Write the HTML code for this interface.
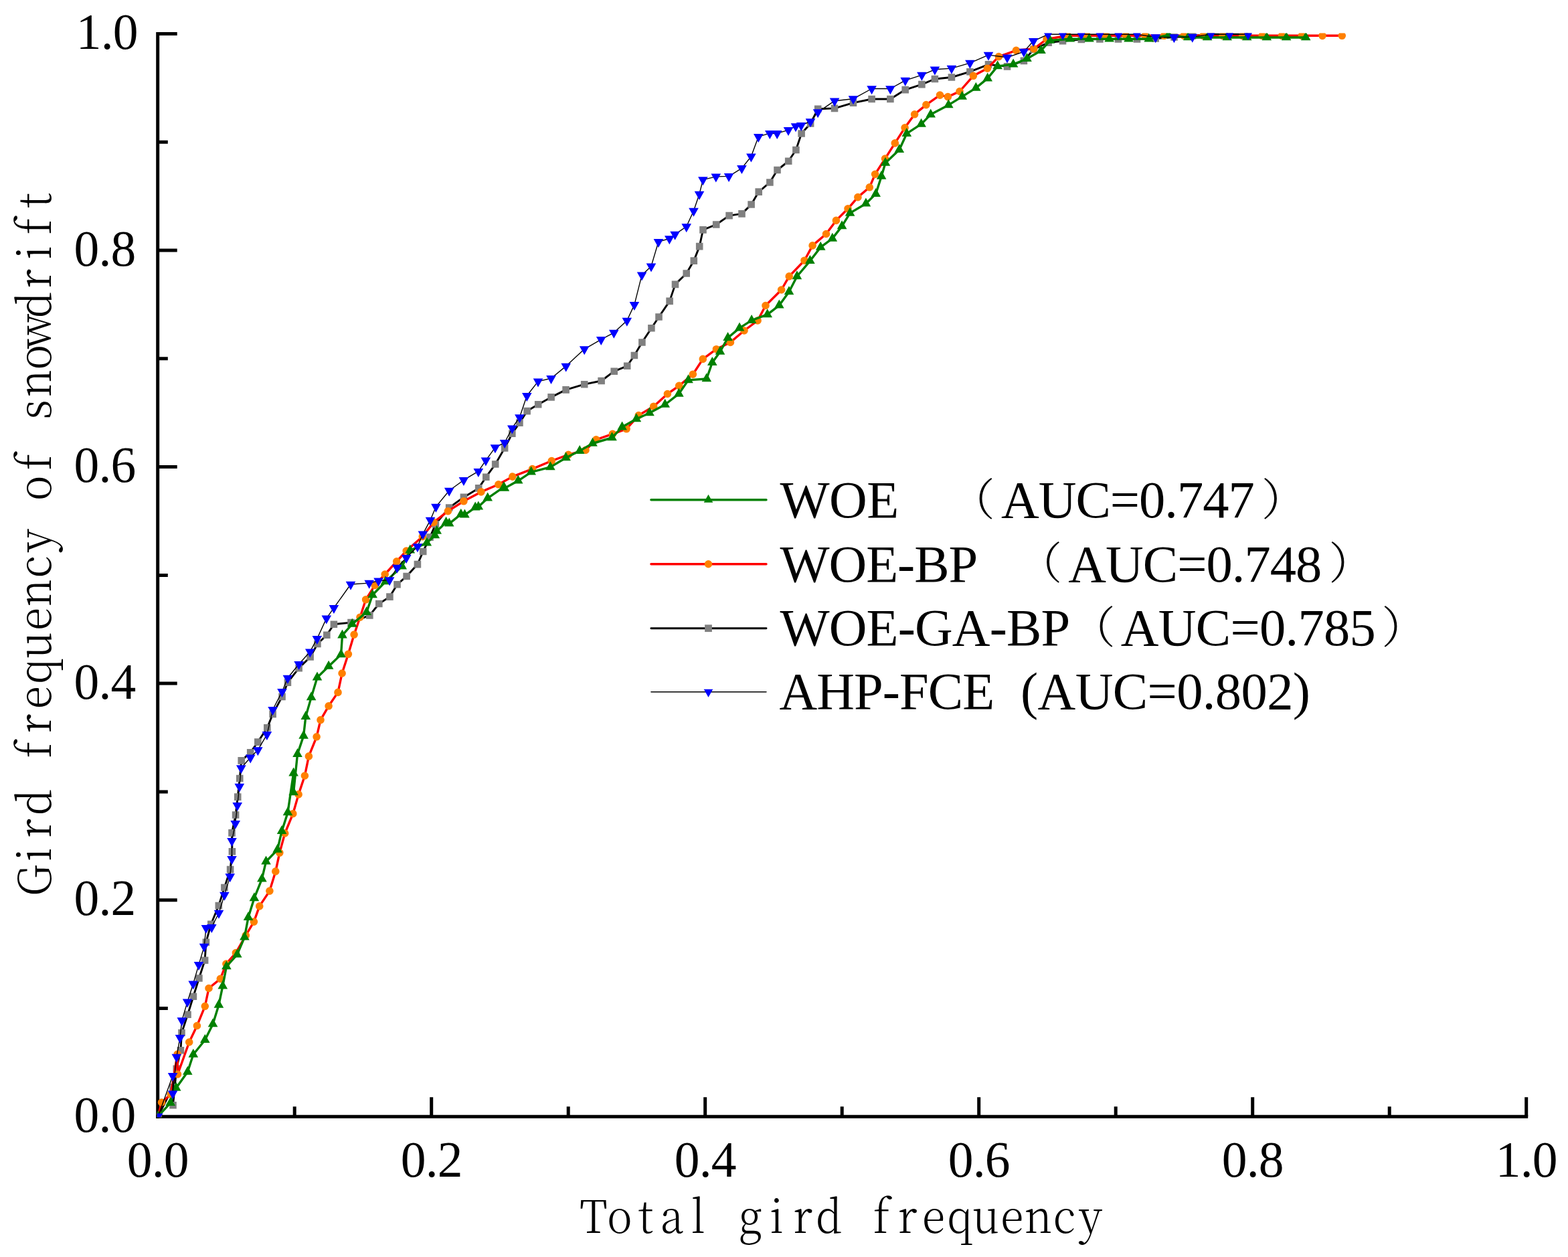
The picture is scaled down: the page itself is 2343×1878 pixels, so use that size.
<!DOCTYPE html>
<html lang="en"><head><meta charset="utf-8"><title>ROC curves</title>
<style>html,body{margin:0;padding:0;background:#fff}svg{display:block}.t{font-family:"Liberation Serif","Noto Serif CJK SC",serif;fill:#000}.c{font-family:"Liberation Serif","Noto Serif CJK SC",serif;fill:#000}.m{font-family:"Noto Serif CJK SC","Liberation Serif",serif;fill:#000}</style></head><body>
<svg width="2343" height="1878" viewBox="0 0 2343 1878">
<rect width="2343" height="1878" fill="#fff"/>
<defs><clipPath id="cp"><rect x="234.7" y="49.4" width="2047" height="1619.9"/></clipPath></defs>
<g stroke="#000" stroke-width="5.0" fill="none" stroke-linecap="butt">
<path d="M235.7 47.9V1670.8"/>
<path d="M233.2 1668.3H2283.2"/>
<path d="M440.2 1668.3v-15.1M235.7 1506.5h15.1M644.7 1668.3v-29M235.7 1344.7h29M849.2 1668.3v-15.1M235.7 1182.9h15.1M1053.7 1668.3v-29M235.7 1021.1h29M1258.2 1668.3v-15.1M235.7 859.4h15.1M1462.7 1668.3v-29M235.7 697.6h29M1667.2 1668.3v-15.1M235.7 535.8h15.1M1871.7 1668.3v-29M235.7 374h29M2076.2 1668.3v-15.1M235.7 212.2h15.1M2280.7 1668.3v-29M235.7 50.4h29"/>
</g>
<g clip-path="url(#cp)" stroke-linejoin="round" stroke-linecap="round">
<path d="M236.2 1667.8L258.3 1624.4L258.5 1651.3L263.8 1596.7L269.9 1569.2L271.5 1543L280.5 1515.8L288.9 1488.7L297.4 1461.5L306.1 1434.8L307.9 1407.7L315.3 1380.8L326.8 1353L335.4 1326L344.1 1299.1L346.9 1272.2L346.5 1244.4L352.1 1217.5L355.2 1190.6L358.2 1163L360.7 1136.4L374.2 1124.4L385.3 1108.6L399.3 1087.3L407.6 1066.9L421.5 1040.9L429.9 1019.6L446.6 998.2L463.6 981.5L474.4 962L488.3 948.7L498.9 932.7L524.5 930.1L552.3 919.4L566.3 902L582.4 891.6L593.5 873.2L607.6 861L623.9 843.1L632.2 824L642.5 802.6L650.8 783.2L671.2 758.5L692.9 742.9L715.2 729.4L726.3 712.7L740.2 693.5L754.1 669.4L765.3 647.7L776.4 631.6L787.6 614.1L804.2 604.2L823.6 593.4L845.6 582.4L873.2 574.2L898.6 569L917.7 554.7L937.2 546.8L947.9 531L959.4 511.5L973.4 490.2L984.5 473.5L1000.6 449.9L1009 424.9L1025.7 408.5L1036.8 389.6L1045.2 368.1L1050.5 343.4L1070.2 335.5L1089.6 322.1L1108.5 319.4L1122.6 305.5L1133.7 286.6L1150.4 272.5L1161.5 254L1178.2 240.8L1189.4 224L1197.6 199.5L1211.1 184.5L1222.2 162.8L1247 161.9L1275 153.6L1302.6 148L1330.4 148L1352.7 134.1L1377.4 126.1L1396.9 118L1421.9 115.5L1449.4 107.2L1477 96.4L1505 99.4L1529.9 90.9L1544.4 73.8L1566.6 63.6L1588 61.2L1615.8 59L1643.4 58.5L1671 58.5L1699 58.5L1726.7 57.5L1754.5 55.5L1782 53.5L1809.5 51.2L1837.3 51.2L1865 51.2" fill="none" stroke="#000" stroke-width="2.9"/>
<path d="M253 1619.1h10.6v10.6h-10.6zM253.2 1646h10.6v10.6h-10.6zM258.5 1591.4h10.6v10.6h-10.6zM264.6 1563.9h10.6v10.6h-10.6zM266.2 1537.7h10.6v10.6h-10.6zM275.2 1510.5h10.6v10.6h-10.6zM283.6 1483.4h10.6v10.6h-10.6zM292.1 1456.2h10.6v10.6h-10.6zM300.8 1429.5h10.6v10.6h-10.6zM302.6 1402.4h10.6v10.6h-10.6zM310 1375.5h10.6v10.6h-10.6zM321.5 1347.7h10.6v10.6h-10.6zM330.1 1320.7h10.6v10.6h-10.6zM338.8 1293.8h10.6v10.6h-10.6zM341.6 1266.9h10.6v10.6h-10.6zM341.2 1239.1h10.6v10.6h-10.6zM346.8 1212.2h10.6v10.6h-10.6zM349.9 1185.3h10.6v10.6h-10.6zM352.9 1157.7h10.6v10.6h-10.6zM355.4 1131.1h10.6v10.6h-10.6zM368.9 1119.1h10.6v10.6h-10.6zM380 1103.3h10.6v10.6h-10.6zM394 1082h10.6v10.6h-10.6zM402.3 1061.6h10.6v10.6h-10.6zM416.2 1035.6h10.6v10.6h-10.6zM424.6 1014.3h10.6v10.6h-10.6zM441.3 992.9h10.6v10.6h-10.6zM458.3 976.2h10.6v10.6h-10.6zM469.1 956.7h10.6v10.6h-10.6zM483 943.4h10.6v10.6h-10.6zM493.6 927.4h10.6v10.6h-10.6zM519.2 924.8h10.6v10.6h-10.6zM547 914.1h10.6v10.6h-10.6zM561 896.7h10.6v10.6h-10.6zM577.1 886.3h10.6v10.6h-10.6zM588.2 867.9h10.6v10.6h-10.6zM602.3 855.7h10.6v10.6h-10.6zM618.6 837.8h10.6v10.6h-10.6zM626.9 818.7h10.6v10.6h-10.6zM637.2 797.3h10.6v10.6h-10.6zM645.5 777.9h10.6v10.6h-10.6zM665.9 753.2h10.6v10.6h-10.6zM687.6 737.6h10.6v10.6h-10.6zM709.9 724.1h10.6v10.6h-10.6zM721 707.4h10.6v10.6h-10.6zM734.9 688.2h10.6v10.6h-10.6zM748.8 664.1h10.6v10.6h-10.6zM760 642.4h10.6v10.6h-10.6zM771.1 626.3h10.6v10.6h-10.6zM782.3 608.8h10.6v10.6h-10.6zM798.9 598.9h10.6v10.6h-10.6zM818.3 588.1h10.6v10.6h-10.6zM840.3 577.1h10.6v10.6h-10.6zM867.9 568.9h10.6v10.6h-10.6zM893.3 563.7h10.6v10.6h-10.6zM912.4 549.4h10.6v10.6h-10.6zM931.9 541.5h10.6v10.6h-10.6zM942.6 525.7h10.6v10.6h-10.6zM954.1 506.2h10.6v10.6h-10.6zM968.1 484.9h10.6v10.6h-10.6zM979.2 468.2h10.6v10.6h-10.6zM995.3 444.6h10.6v10.6h-10.6zM1003.7 419.6h10.6v10.6h-10.6zM1020.4 403.2h10.6v10.6h-10.6zM1031.5 384.3h10.6v10.6h-10.6zM1039.9 362.8h10.6v10.6h-10.6zM1045.2 338.1h10.6v10.6h-10.6zM1064.9 330.2h10.6v10.6h-10.6zM1084.3 316.8h10.6v10.6h-10.6zM1103.2 314.1h10.6v10.6h-10.6zM1117.3 300.2h10.6v10.6h-10.6zM1128.4 281.3h10.6v10.6h-10.6zM1145.1 267.2h10.6v10.6h-10.6zM1156.2 248.7h10.6v10.6h-10.6zM1172.9 235.5h10.6v10.6h-10.6zM1184.1 218.7h10.6v10.6h-10.6zM1192.3 194.2h10.6v10.6h-10.6zM1205.8 179.2h10.6v10.6h-10.6zM1216.9 157.5h10.6v10.6h-10.6zM1241.7 156.6h10.6v10.6h-10.6zM1269.7 148.3h10.6v10.6h-10.6zM1297.3 142.7h10.6v10.6h-10.6zM1325.1 142.7h10.6v10.6h-10.6zM1347.4 128.8h10.6v10.6h-10.6zM1372.1 120.8h10.6v10.6h-10.6zM1391.6 112.7h10.6v10.6h-10.6zM1416.6 110.2h10.6v10.6h-10.6zM1444.1 101.9h10.6v10.6h-10.6zM1471.7 91.1h10.6v10.6h-10.6zM1499.7 94.1h10.6v10.6h-10.6zM1524.6 85.6h10.6v10.6h-10.6zM1539.1 68.5h10.6v10.6h-10.6zM1561.3 58.3h10.6v10.6h-10.6zM1582.7 55.9h10.6v10.6h-10.6zM1610.5 53.7h10.6v10.6h-10.6zM1638.1 53.2h10.6v10.6h-10.6zM1665.7 53.2h10.6v10.6h-10.6zM1693.7 53.2h10.6v10.6h-10.6zM1721.4 52.2h10.6v10.6h-10.6zM1749.2 50.2h10.6v10.6h-10.6zM1776.7 48.2h10.6v10.6h-10.6zM1804.2 45.9h10.6v10.6h-10.6zM1832 45.9h10.6v10.6h-10.6zM1859.7 45.9h10.6v10.6h-10.6z" fill="#808080"/>
<path d="M236.2 1667.8L241.5 1647L255.2 1635L265.1 1575L265.5 1605L282.7 1557L294.4 1532.5L306.3 1503.3L312 1476.5L329.3 1462.4L337.9 1440L352.4 1423.5L367.3 1397.5L379.4 1377.1L387.7 1353.9L402.9 1331.1L411.8 1301.9L417.8 1274.1L425.7 1245L437.8 1215.7L446.1 1186.9L455.4 1159L461.4 1129.9L473.1 1100.8L479 1075.6L491.1 1054.8L505 1034.4L511.1 1006L520.4 977.3L529.1 948.1L538 922.2L546.6 895.8L560.2 874.4L575.2 858L592.7 838.8L607.2 823L631.3 801.7L648 780.4L669.4 763.7L692.9 748.8L718.9 734.9L744.9 723.8L765.8 712.1L795.5 700.6L824.3 688.5L849.3 679.3L875 672.5L890.8 656.8L915.4 648.4L936.1 640.8L954.3 620.5L976.7 607.2L997.4 588.5L1014.7 576.4L1035.4 559.2L1050.3 536.4L1070.4 521.7L1091.4 511.4L1112 494L1132.1 479L1144 456.5L1167.6 433L1179.2 412.9L1202 389.2L1214.1 366.9L1234.5 349.5L1249.4 329.4L1267 311.8L1281.9 294.6L1299.3 279.8L1307.6 260.3L1322.5 237.1L1337.3 213.9L1352.1 190.8L1366.6 170.8L1383.9 156.6L1404.5 142.1L1416.4 144.6L1434 136.5L1454.4 113.3L1475.4 102.2L1492.4 84.6L1518.4 75.3L1544.9 72.8L1564 58.5L1595.4 53.3L1624.4 53.3L1652.5 53.3L1682.3 53.3L1711 53.3L1739.5 53.3L1769.1 53.3L1798.1 53.3L1827 53.3L1856.6 53.3L1886.1 53.3L1915.5 53.3L1945.3 53.3L1976 53.3L2005.3 53.3" fill="none" stroke="#f00" stroke-width="3.4"/>
<path d="M230.4 1667.8a5.8 5.8 0 1 0 11.6 0a5.8 5.8 0 1 0 -11.6 0zM235.7 1647a5.8 5.8 0 1 0 11.6 0a5.8 5.8 0 1 0 -11.6 0zM249.4 1635a5.8 5.8 0 1 0 11.6 0a5.8 5.8 0 1 0 -11.6 0zM259.3 1575a5.8 5.8 0 1 0 11.6 0a5.8 5.8 0 1 0 -11.6 0zM259.7 1605a5.8 5.8 0 1 0 11.6 0a5.8 5.8 0 1 0 -11.6 0zM276.9 1557a5.8 5.8 0 1 0 11.6 0a5.8 5.8 0 1 0 -11.6 0zM288.6 1532.5a5.8 5.8 0 1 0 11.6 0a5.8 5.8 0 1 0 -11.6 0zM300.5 1503.3a5.8 5.8 0 1 0 11.6 0a5.8 5.8 0 1 0 -11.6 0zM306.2 1476.5a5.8 5.8 0 1 0 11.6 0a5.8 5.8 0 1 0 -11.6 0zM323.5 1462.4a5.8 5.8 0 1 0 11.6 0a5.8 5.8 0 1 0 -11.6 0zM332.1 1440a5.8 5.8 0 1 0 11.6 0a5.8 5.8 0 1 0 -11.6 0zM346.6 1423.5a5.8 5.8 0 1 0 11.6 0a5.8 5.8 0 1 0 -11.6 0zM361.5 1397.5a5.8 5.8 0 1 0 11.6 0a5.8 5.8 0 1 0 -11.6 0zM373.6 1377.1a5.8 5.8 0 1 0 11.6 0a5.8 5.8 0 1 0 -11.6 0zM381.9 1353.9a5.8 5.8 0 1 0 11.6 0a5.8 5.8 0 1 0 -11.6 0zM397.1 1331.1a5.8 5.8 0 1 0 11.6 0a5.8 5.8 0 1 0 -11.6 0zM406 1301.9a5.8 5.8 0 1 0 11.6 0a5.8 5.8 0 1 0 -11.6 0zM412 1274.1a5.8 5.8 0 1 0 11.6 0a5.8 5.8 0 1 0 -11.6 0zM419.9 1245a5.8 5.8 0 1 0 11.6 0a5.8 5.8 0 1 0 -11.6 0zM432 1215.7a5.8 5.8 0 1 0 11.6 0a5.8 5.8 0 1 0 -11.6 0zM440.3 1186.9a5.8 5.8 0 1 0 11.6 0a5.8 5.8 0 1 0 -11.6 0zM449.6 1159a5.8 5.8 0 1 0 11.6 0a5.8 5.8 0 1 0 -11.6 0zM455.6 1129.9a5.8 5.8 0 1 0 11.6 0a5.8 5.8 0 1 0 -11.6 0zM467.3 1100.8a5.8 5.8 0 1 0 11.6 0a5.8 5.8 0 1 0 -11.6 0zM473.2 1075.6a5.8 5.8 0 1 0 11.6 0a5.8 5.8 0 1 0 -11.6 0zM485.3 1054.8a5.8 5.8 0 1 0 11.6 0a5.8 5.8 0 1 0 -11.6 0zM499.2 1034.4a5.8 5.8 0 1 0 11.6 0a5.8 5.8 0 1 0 -11.6 0zM505.3 1006a5.8 5.8 0 1 0 11.6 0a5.8 5.8 0 1 0 -11.6 0zM514.6 977.3a5.8 5.8 0 1 0 11.6 0a5.8 5.8 0 1 0 -11.6 0zM523.3 948.1a5.8 5.8 0 1 0 11.6 0a5.8 5.8 0 1 0 -11.6 0zM532.2 922.2a5.8 5.8 0 1 0 11.6 0a5.8 5.8 0 1 0 -11.6 0zM540.8 895.8a5.8 5.8 0 1 0 11.6 0a5.8 5.8 0 1 0 -11.6 0zM554.4 874.4a5.8 5.8 0 1 0 11.6 0a5.8 5.8 0 1 0 -11.6 0zM569.4 858a5.8 5.8 0 1 0 11.6 0a5.8 5.8 0 1 0 -11.6 0zM586.9 838.8a5.8 5.8 0 1 0 11.6 0a5.8 5.8 0 1 0 -11.6 0zM601.4 823a5.8 5.8 0 1 0 11.6 0a5.8 5.8 0 1 0 -11.6 0zM625.5 801.7a5.8 5.8 0 1 0 11.6 0a5.8 5.8 0 1 0 -11.6 0zM642.2 780.4a5.8 5.8 0 1 0 11.6 0a5.8 5.8 0 1 0 -11.6 0zM663.6 763.7a5.8 5.8 0 1 0 11.6 0a5.8 5.8 0 1 0 -11.6 0zM687.1 748.8a5.8 5.8 0 1 0 11.6 0a5.8 5.8 0 1 0 -11.6 0zM713.1 734.9a5.8 5.8 0 1 0 11.6 0a5.8 5.8 0 1 0 -11.6 0zM739.1 723.8a5.8 5.8 0 1 0 11.6 0a5.8 5.8 0 1 0 -11.6 0zM760 712.1a5.8 5.8 0 1 0 11.6 0a5.8 5.8 0 1 0 -11.6 0zM789.7 700.6a5.8 5.8 0 1 0 11.6 0a5.8 5.8 0 1 0 -11.6 0zM818.5 688.5a5.8 5.8 0 1 0 11.6 0a5.8 5.8 0 1 0 -11.6 0zM843.5 679.3a5.8 5.8 0 1 0 11.6 0a5.8 5.8 0 1 0 -11.6 0zM869.2 672.5a5.8 5.8 0 1 0 11.6 0a5.8 5.8 0 1 0 -11.6 0zM885 656.8a5.8 5.8 0 1 0 11.6 0a5.8 5.8 0 1 0 -11.6 0zM909.6 648.4a5.8 5.8 0 1 0 11.6 0a5.8 5.8 0 1 0 -11.6 0zM930.3 640.8a5.8 5.8 0 1 0 11.6 0a5.8 5.8 0 1 0 -11.6 0zM948.5 620.5a5.8 5.8 0 1 0 11.6 0a5.8 5.8 0 1 0 -11.6 0zM970.9 607.2a5.8 5.8 0 1 0 11.6 0a5.8 5.8 0 1 0 -11.6 0zM991.6 588.5a5.8 5.8 0 1 0 11.6 0a5.8 5.8 0 1 0 -11.6 0zM1008.9 576.4a5.8 5.8 0 1 0 11.6 0a5.8 5.8 0 1 0 -11.6 0zM1029.6 559.2a5.8 5.8 0 1 0 11.6 0a5.8 5.8 0 1 0 -11.6 0zM1044.5 536.4a5.8 5.8 0 1 0 11.6 0a5.8 5.8 0 1 0 -11.6 0zM1064.6 521.7a5.8 5.8 0 1 0 11.6 0a5.8 5.8 0 1 0 -11.6 0zM1085.6 511.4a5.8 5.8 0 1 0 11.6 0a5.8 5.8 0 1 0 -11.6 0zM1106.2 494a5.8 5.8 0 1 0 11.6 0a5.8 5.8 0 1 0 -11.6 0zM1126.3 479a5.8 5.8 0 1 0 11.6 0a5.8 5.8 0 1 0 -11.6 0zM1138.2 456.5a5.8 5.8 0 1 0 11.6 0a5.8 5.8 0 1 0 -11.6 0zM1161.8 433a5.8 5.8 0 1 0 11.6 0a5.8 5.8 0 1 0 -11.6 0zM1173.4 412.9a5.8 5.8 0 1 0 11.6 0a5.8 5.8 0 1 0 -11.6 0zM1196.2 389.2a5.8 5.8 0 1 0 11.6 0a5.8 5.8 0 1 0 -11.6 0zM1208.3 366.9a5.8 5.8 0 1 0 11.6 0a5.8 5.8 0 1 0 -11.6 0zM1228.7 349.5a5.8 5.8 0 1 0 11.6 0a5.8 5.8 0 1 0 -11.6 0zM1243.6 329.4a5.8 5.8 0 1 0 11.6 0a5.8 5.8 0 1 0 -11.6 0zM1261.2 311.8a5.8 5.8 0 1 0 11.6 0a5.8 5.8 0 1 0 -11.6 0zM1276.1 294.6a5.8 5.8 0 1 0 11.6 0a5.8 5.8 0 1 0 -11.6 0zM1293.5 279.8a5.8 5.8 0 1 0 11.6 0a5.8 5.8 0 1 0 -11.6 0zM1301.8 260.3a5.8 5.8 0 1 0 11.6 0a5.8 5.8 0 1 0 -11.6 0zM1316.7 237.1a5.8 5.8 0 1 0 11.6 0a5.8 5.8 0 1 0 -11.6 0zM1331.5 213.9a5.8 5.8 0 1 0 11.6 0a5.8 5.8 0 1 0 -11.6 0zM1346.3 190.8a5.8 5.8 0 1 0 11.6 0a5.8 5.8 0 1 0 -11.6 0zM1360.8 170.8a5.8 5.8 0 1 0 11.6 0a5.8 5.8 0 1 0 -11.6 0zM1378.1 156.6a5.8 5.8 0 1 0 11.6 0a5.8 5.8 0 1 0 -11.6 0zM1398.7 142.1a5.8 5.8 0 1 0 11.6 0a5.8 5.8 0 1 0 -11.6 0zM1410.6 144.6a5.8 5.8 0 1 0 11.6 0a5.8 5.8 0 1 0 -11.6 0zM1428.2 136.5a5.8 5.8 0 1 0 11.6 0a5.8 5.8 0 1 0 -11.6 0zM1448.6 113.3a5.8 5.8 0 1 0 11.6 0a5.8 5.8 0 1 0 -11.6 0zM1469.6 102.2a5.8 5.8 0 1 0 11.6 0a5.8 5.8 0 1 0 -11.6 0zM1486.6 84.6a5.8 5.8 0 1 0 11.6 0a5.8 5.8 0 1 0 -11.6 0zM1512.6 75.3a5.8 5.8 0 1 0 11.6 0a5.8 5.8 0 1 0 -11.6 0zM1539.1 72.8a5.8 5.8 0 1 0 11.6 0a5.8 5.8 0 1 0 -11.6 0zM1558.2 58.5a5.8 5.8 0 1 0 11.6 0a5.8 5.8 0 1 0 -11.6 0zM1589.6 53.3a5.8 5.8 0 1 0 11.6 0a5.8 5.8 0 1 0 -11.6 0zM1618.6 53.3a5.8 5.8 0 1 0 11.6 0a5.8 5.8 0 1 0 -11.6 0zM1646.7 53.3a5.8 5.8 0 1 0 11.6 0a5.8 5.8 0 1 0 -11.6 0zM1676.5 53.3a5.8 5.8 0 1 0 11.6 0a5.8 5.8 0 1 0 -11.6 0zM1705.2 53.3a5.8 5.8 0 1 0 11.6 0a5.8 5.8 0 1 0 -11.6 0zM1733.7 53.3a5.8 5.8 0 1 0 11.6 0a5.8 5.8 0 1 0 -11.6 0zM1763.3 53.3a5.8 5.8 0 1 0 11.6 0a5.8 5.8 0 1 0 -11.6 0zM1792.3 53.3a5.8 5.8 0 1 0 11.6 0a5.8 5.8 0 1 0 -11.6 0zM1821.2 53.3a5.8 5.8 0 1 0 11.6 0a5.8 5.8 0 1 0 -11.6 0zM1850.8 53.3a5.8 5.8 0 1 0 11.6 0a5.8 5.8 0 1 0 -11.6 0zM1880.3 53.3a5.8 5.8 0 1 0 11.6 0a5.8 5.8 0 1 0 -11.6 0zM1909.7 53.3a5.8 5.8 0 1 0 11.6 0a5.8 5.8 0 1 0 -11.6 0zM1939.5 53.3a5.8 5.8 0 1 0 11.6 0a5.8 5.8 0 1 0 -11.6 0zM1970.2 53.3a5.8 5.8 0 1 0 11.6 0a5.8 5.8 0 1 0 -11.6 0zM1999.5 53.3a5.8 5.8 0 1 0 11.6 0a5.8 5.8 0 1 0 -11.6 0z" fill="#ff8000"/>
<path d="M236.2 1667.8L254.6 1647.8L263.2 1625.5L280.3 1601.5L288.8 1575.5L306.3 1553.7L318.1 1530L326.9 1501.5L332.8 1473.2L338.4 1443.9L354.3 1426.3L365.4 1400.3L371 1370.6L379.9 1341.9L391.4 1313.1L397.5 1287.2L414.6 1269.5L421.1 1241.7L430 1213.9L438.6 1155.1L438.6 1183.9L444.5 1126.8L453.6 1099.4L456.8 1070.6L465.1 1041.9L474 1012.2L491.1 995.5L509.6 977.9L511.5 949.1L526.3 932.4L547.7 914.8L556.6 889L576 869L600.7 846.3L612.8 822.2L637.8 811.1L649.9 799.9L652.7 793.4L666.6 780.4L671.2 782.3L688.8 768.4L694.4 769.3L710.2 758.2L714.8 757.3L728.7 744.3L752.8 727.6L753.9 729.4L774.2 718.3L793.7 705.3L822.4 697.9L845.6 684L866.2 673.6L885.5 662.5L914.5 654L929.6 638.1L950.9 626L970.5 617L993.7 604.5L1014.4 588.4L1028.5 567.9L1055.8 566L1064.3 541.8L1076 525.4L1087.6 504.8L1105 490.1L1123.1 478.6L1146.7 469.9L1164.3 456.3L1179 436L1190.9 413L1210.4 389.8L1226.2 369.4L1243.8 356.4L1258.1 337.9L1270.1 318.4L1293.9 304.2L1308.7 289.6L1317.1 263.4L1323 243.4L1343.8 223.8L1354.8 199.7L1376.6 185.4L1390.7 171.1L1417.3 156.9L1437.7 144.4L1458.3 131.4L1475.7 117.1L1490.6 98.9L1514.1 96.1L1534.5 87.8L1555.5 75.7L1569 60.5L1598.8 58.2L1627.5 58.2L1657.6 58.2L1686.5 58.2L1716.7 58.2L1746 52.5L1775.2 56L1804.1 56L1833.7 56L1863.2 56L1892.8 56L1922.1 56L1951.2 56" fill="none" stroke="#008000" stroke-width="3.4"/>
<path d="M228.9 1672.1h14.6L236.2 1659.1zM247.3 1652.1h14.6L254.6 1639.1zM255.9 1629.8h14.6L263.2 1616.8zM273 1605.8h14.6L280.3 1592.8zM281.5 1579.8h14.6L288.8 1566.8zM299 1558h14.6L306.3 1545zM310.8 1534.3h14.6L318.1 1521.3zM319.6 1505.8h14.6L326.9 1492.8zM325.5 1477.5h14.6L332.8 1464.5zM331.1 1448.2h14.6L338.4 1435.2zM347 1430.6h14.6L354.3 1417.6zM358.1 1404.6h14.6L365.4 1391.6zM363.7 1374.9h14.6L371 1361.9zM372.6 1346.2h14.6L379.9 1333.2zM384.1 1317.4h14.6L391.4 1304.4zM390.2 1291.5h14.6L397.5 1278.5zM407.3 1273.8h14.6L414.6 1260.8zM413.8 1246h14.6L421.1 1233zM422.7 1218.2h14.6L430 1205.2zM431.3 1159.4h14.6L438.6 1146.4zM431.3 1188.2h14.6L438.6 1175.2zM437.2 1131.1h14.6L444.5 1118.1zM446.3 1103.7h14.6L453.6 1090.7zM449.5 1074.9h14.6L456.8 1061.9zM457.8 1046.2h14.6L465.1 1033.2zM466.7 1016.5h14.6L474 1003.5zM483.8 999.8h14.6L491.1 986.8zM502.3 982.2h14.6L509.6 969.2zM504.2 953.4h14.6L511.5 940.4zM519 936.7h14.6L526.3 923.7zM540.4 919.1h14.6L547.7 906.1zM549.3 893.3h14.6L556.6 880.3zM568.7 873.3h14.6L576 860.3zM593.4 850.6h14.6L600.7 837.6zM605.5 826.5h14.6L612.8 813.5zM630.5 815.4h14.6L637.8 802.4zM642.6 804.2h14.6L649.9 791.2zM645.4 797.7h14.6L652.7 784.7zM659.3 784.7h14.6L666.6 771.7zM663.9 786.6h14.6L671.2 773.6zM681.5 772.7h14.6L688.8 759.7zM687.1 773.6h14.6L694.4 760.6zM702.9 762.5h14.6L710.2 749.5zM707.5 761.6h14.6L714.8 748.6zM721.4 748.6h14.6L728.7 735.6zM745.5 731.9h14.6L752.8 718.9zM746.6 733.7h14.6L753.9 720.7zM766.9 722.6h14.6L774.2 709.6zM786.4 709.6h14.6L793.7 696.6zM815.1 702.2h14.6L822.4 689.2zM838.3 688.3h14.6L845.6 675.3zM858.9 677.9h14.6L866.2 664.9zM878.2 666.8h14.6L885.5 653.8zM907.2 658.3h14.6L914.5 645.3zM922.3 642.4h14.6L929.6 629.4zM943.6 630.3h14.6L950.9 617.3zM963.2 621.3h14.6L970.5 608.3zM986.4 608.8h14.6L993.7 595.8zM1007.1 592.7h14.6L1014.4 579.7zM1021.2 572.2h14.6L1028.5 559.2zM1048.5 570.3h14.6L1055.8 557.3zM1057 546.1h14.6L1064.3 533.1zM1068.7 529.7h14.6L1076 516.7zM1080.3 509.1h14.6L1087.6 496.1zM1097.7 494.4h14.6L1105 481.4zM1115.8 482.9h14.6L1123.1 469.9zM1139.4 474.2h14.6L1146.7 461.2zM1157 460.6h14.6L1164.3 447.6zM1171.7 440.3h14.6L1179 427.3zM1183.6 417.3h14.6L1190.9 404.3zM1203.1 394.1h14.6L1210.4 381.1zM1218.9 373.7h14.6L1226.2 360.7zM1236.5 360.7h14.6L1243.8 347.7zM1250.8 342.2h14.6L1258.1 329.2zM1262.8 322.7h14.6L1270.1 309.7zM1286.6 308.5h14.6L1293.9 295.5zM1301.4 293.9h14.6L1308.7 280.9zM1309.8 267.7h14.6L1317.1 254.7zM1315.7 247.7h14.6L1323 234.7zM1336.5 228.1h14.6L1343.8 215.1zM1347.5 204h14.6L1354.8 191zM1369.3 189.7h14.6L1376.6 176.7zM1383.4 175.4h14.6L1390.7 162.4zM1410 161.2h14.6L1417.3 148.2zM1430.4 148.7h14.6L1437.7 135.7zM1451 135.7h14.6L1458.3 122.7zM1468.4 121.4h14.6L1475.7 108.4zM1483.3 103.2h14.6L1490.6 90.2zM1506.8 100.4h14.6L1514.1 87.4zM1527.2 92.1h14.6L1534.5 79.1zM1548.2 80h14.6L1555.5 67zM1561.7 64.8h14.6L1569 51.8zM1591.5 62.5h14.6L1598.8 49.5zM1620.2 62.5h14.6L1627.5 49.5zM1650.3 62.5h14.6L1657.6 49.5zM1679.2 62.5h14.6L1686.5 49.5zM1709.4 62.5h14.6L1716.7 49.5zM1738.7 56.8h14.6L1746 43.8zM1767.9 60.3h14.6L1775.2 47.3zM1796.8 60.3h14.6L1804.1 47.3zM1826.4 60.3h14.6L1833.7 47.3zM1855.9 60.3h14.6L1863.2 47.3zM1885.5 60.3h14.6L1892.8 47.3zM1914.8 60.3h14.6L1922.1 47.3zM1943.9 60.3h14.6L1951.2 47.3z" fill="#008000"/>
<path d="M236.2 1667.8L258.1 1607.2L258.1 1633.7L263.8 1579L269 1550.3L271.8 1524.6L280.1 1496.7L288.7 1469.7L297 1441.4L305.1 1414.1L307.9 1386.3L316.3 1385.3L327 1364L335.4 1337.1L343.7 1309.6L346.5 1283.3L346.5 1256.4L351.7 1230.4L354.7 1203.2L357.8 1175L360.3 1147.5L374.2 1131.7L385.3 1120.6L398.9 1097.4L407.6 1060.3L421.5 1033.4L429.9 1013L446.6 992.2L463.3 973.7L473.8 954.2L487.8 923.9L498.9 908.2L524 873L551.7 871.1L565.6 867.7L582.1 866.5L593.3 848L607.2 833.2L623.9 816.5L631.9 797.9L643 777.1L651.4 757.1L671.2 733L692.9 717.2L714.8 704.2L725.9 687.9L739.9 668.6L754.1 661.2L765.3 639.7L776.4 623.5L787.3 591.2L804 569.9L823.5 565.2L845.7 547.1L873.2 521.6L898.2 507.2L917.3 497.1L936.8 479L947.9 455.4L959.1 410.9L973 397.9L983.9 361.2L1000.3 356.5L1008.6 350.1L1025.7 338.5L1036.5 315L1045 290L1050.4 268.6L1069.8 263.9L1089.1 263.4L1108.4 251.4L1122.4 233.8L1133.3 204.2L1150.3 199.2L1161.2 199.2L1178 194.4L1189 188.5L1197.2 187.2L1211 181.5L1222.1 167.6L1247.1 150.7L1275 147.6L1302.6 132.5L1330.4 132.5L1352.7 120.1L1377.4 112.1L1396.9 103.8L1421.9 102.1L1449.4 94.1L1477 82.1L1505 85.8L1529.9 77.1L1544.2 61.3L1566 51.3L1588 51.3L1615.7 51.3L1643.5 51.3L1671.2 51.3L1698.9 51.3L1726.7 55.6L1754.4 55.6L1781.8 55.1L1809.5 51.3L1837.3 51.3L1865 51.3" fill="none" stroke="#000" stroke-width="1.4"/>
<path d="M228.9 1663.5h14.6L236.2 1676.5zM250.8 1602.9h14.6L258.1 1615.9zM250.8 1629.4h14.6L258.1 1642.4zM256.5 1574.7h14.6L263.8 1587.7zM261.7 1546h14.6L269 1559zM264.5 1520.3h14.6L271.8 1533.3zM272.8 1492.4h14.6L280.1 1505.4zM281.4 1465.4h14.6L288.7 1478.4zM289.7 1437.1h14.6L297 1450.1zM297.8 1409.8h14.6L305.1 1422.8zM300.6 1382h14.6L307.9 1395zM309 1381h14.6L316.3 1394zM319.7 1359.7h14.6L327 1372.7zM328.1 1332.8h14.6L335.4 1345.8zM336.4 1305.3h14.6L343.7 1318.3zM339.2 1279h14.6L346.5 1292zM339.2 1252.1h14.6L346.5 1265.1zM344.4 1226.1h14.6L351.7 1239.1zM347.4 1198.9h14.6L354.7 1211.9zM350.5 1170.7h14.6L357.8 1183.7zM353 1143.2h14.6L360.3 1156.2zM366.9 1127.4h14.6L374.2 1140.4zM378 1116.3h14.6L385.3 1129.3zM391.6 1093.1h14.6L398.9 1106.1zM400.3 1056h14.6L407.6 1069zM414.2 1029.1h14.6L421.5 1042.1zM422.6 1008.7h14.6L429.9 1021.7zM439.3 987.9h14.6L446.6 1000.9zM456 969.4h14.6L463.3 982.4zM466.5 949.9h14.6L473.8 962.9zM480.5 919.6h14.6L487.8 932.6zM491.6 903.9h14.6L498.9 916.9zM516.7 868.7h14.6L524 881.7zM544.4 866.8h14.6L551.7 879.8zM558.3 863.4h14.6L565.6 876.4zM574.8 862.2h14.6L582.1 875.2zM586 843.7h14.6L593.3 856.7zM599.9 828.9h14.6L607.2 841.9zM616.6 812.2h14.6L623.9 825.2zM624.6 793.6h14.6L631.9 806.6zM635.7 772.8h14.6L643 785.8zM644.1 752.8h14.6L651.4 765.8zM663.9 728.7h14.6L671.2 741.7zM685.6 712.9h14.6L692.9 725.9zM707.5 699.9h14.6L714.8 712.9zM718.6 683.6h14.6L725.9 696.6zM732.6 664.3h14.6L739.9 677.3zM746.8 656.9h14.6L754.1 669.9zM758 635.4h14.6L765.3 648.4zM769.1 619.2h14.6L776.4 632.2zM780 586.9h14.6L787.3 599.9zM796.7 565.6h14.6L804 578.6zM816.2 560.9h14.6L823.5 573.9zM838.4 542.8h14.6L845.7 555.8zM865.9 517.3h14.6L873.2 530.3zM890.9 502.9h14.6L898.2 515.9zM910 492.8h14.6L917.3 505.8zM929.5 474.7h14.6L936.8 487.7zM940.6 451.1h14.6L947.9 464.1zM951.8 406.6h14.6L959.1 419.6zM965.7 393.6h14.6L973 406.6zM976.6 356.9h14.6L983.9 369.9zM993 352.2h14.6L1000.3 365.2zM1001.3 345.8h14.6L1008.6 358.8zM1018.4 334.2h14.6L1025.7 347.2zM1029.2 310.7h14.6L1036.5 323.7zM1037.7 285.7h14.6L1045 298.7zM1043.1 264.3h14.6L1050.4 277.3zM1062.5 259.6h14.6L1069.8 272.6zM1081.8 259.1h14.6L1089.1 272.1zM1101.1 247.1h14.6L1108.4 260.1zM1115.1 229.5h14.6L1122.4 242.5zM1126 199.9h14.6L1133.3 212.9zM1143 194.9h14.6L1150.3 207.9zM1153.9 194.9h14.6L1161.2 207.9zM1170.7 190.1h14.6L1178 203.1zM1181.7 184.2h14.6L1189 197.2zM1189.9 182.9h14.6L1197.2 195.9zM1203.7 177.2h14.6L1211 190.2zM1214.8 163.3h14.6L1222.1 176.3zM1239.8 146.4h14.6L1247.1 159.4zM1267.7 143.3h14.6L1275 156.3zM1295.3 128.2h14.6L1302.6 141.2zM1323.1 128.2h14.6L1330.4 141.2zM1345.4 115.8h14.6L1352.7 128.8zM1370.1 107.8h14.6L1377.4 120.8zM1389.6 99.5h14.6L1396.9 112.5zM1414.6 97.8h14.6L1421.9 110.8zM1442.1 89.8h14.6L1449.4 102.8zM1469.7 77.8h14.6L1477 90.8zM1497.7 81.5h14.6L1505 94.5zM1522.6 72.8h14.6L1529.9 85.8zM1536.9 57h14.6L1544.2 70zM1558.7 47h14.6L1566 60zM1580.7 47h14.6L1588 60zM1608.4 47h14.6L1615.7 60zM1636.2 47h14.6L1643.5 60zM1663.9 47h14.6L1671.2 60zM1691.6 47h14.6L1698.9 60zM1719.4 51.3h14.6L1726.7 64.3zM1747.1 51.3h14.6L1754.4 64.3zM1774.5 50.8h14.6L1781.8 63.8zM1802.2 47h14.6L1809.5 60zM1830 47h14.6L1837.3 60zM1857.7 47h14.6L1865 60z" fill="#00f"/>
</g>
<g stroke-linecap="round">
<path d="M972.9 746.8H1145.0" stroke="#008000" stroke-width="3.4"/>
<path d="M1051.7 750.8h13.6L1058.5 738.7z" fill="#008000"/>
<path d="M972.9 842.8H1145.0" stroke="#f00" stroke-width="3.4"/>
<path d="M1052.8 842.8a5.68 5.68 0 1 0 11.4 0a5.68 5.68 0 1 0 -11.4 0z" fill="#ff8000"/>
<path d="M972.9 938.7H1145.0" stroke="#000" stroke-width="2.9"/>
<path d="M1053.1 933.3h10.8v10.8h-10.8z" fill="#808080"/>
<path d="M972.9 1033.7H1145.0" stroke="#000" stroke-width="1.4"/>
<path d="M1051.7 1029.7h13.6L1058.5 1041.8z" fill="#00f"/>
</g>
<g class="t" font-size="75.5" text-anchor="middle" letter-spacing="-0.8">
<text x="235.7" y="1757.8">0.0</text>
<text x="644.7" y="1757.8">0.2</text>
<text x="1053.7" y="1757.8">0.4</text>
<text x="1462.7" y="1757.8">0.6</text>
<text x="1871.7" y="1757.8">0.8</text>
<text x="2280.7" y="1757.8">1.0</text>
</g>
<g class="t" font-size="75.5" text-anchor="end" letter-spacing="-0.8">
<text x="202.5" y="1690.9">0.0</text>
<text x="202.5" y="1367.3">0.2</text>
<text x="202.5" y="1043.7">0.4</text>
<text x="202.5" y="720.2">0.6</text>
<text x="202.5" y="396.6">0.8</text>
<text x="205.7" y="73">1.0</text>
</g>
<g class="t" font-size="78.5" letter-spacing="-0.5">
<text x="1165.5" y="773.3">WOE</text><text class="c" font-size="66" font-weight="300" letter-spacing="0" x="1420.5" y="769.8">（</text><text x="1496" y="773.3" letter-spacing="-1.0">AUC=0.747</text><text class="c" font-size="66" font-weight="300" letter-spacing="0" x="1885" y="769.8">）</text>
<text x="1165.5" y="868.7" letter-spacing="-1.05">WOE-BP</text><text class="c" font-size="66" font-weight="300" letter-spacing="0" x="1521" y="865.2">（</text><text x="1596.3" y="868.7" letter-spacing="-0.95">AUC=0.748</text><text class="c" font-size="66" font-weight="300" letter-spacing="0" x="1985.5" y="865.2">）</text>
<text x="1165.5" y="964.4" letter-spacing="-0.85">WOE-GA-BP</text><text class="c" font-size="66" font-weight="300" letter-spacing="0" x="1600.5" y="960.9">（</text><text x="1674.8" y="964.4" letter-spacing="-0.7">AUC=0.785</text><text class="c" font-size="66" font-weight="300" letter-spacing="0" x="2064.5" y="960.9">）</text>
<text x="1164.5" y="1059.4" letter-spacing="-0.9">AHP-FCE<tspan x="1525" letter-spacing="-0.6">(AUC=0.802)</tspan></text>
</g>
<text class="m" font-size="68" font-weight="300" text-anchor="middle" transform="scale(0.93,1)" x="953.6 995.6 1037.7 1079.7 1121.8 1163.8 1205.9 1247.9 1289.9 1332 1374 1416.1 1458.1 1500.2 1542.2 1584.2 1626.3 1668.3 1710.4 1752.4" y="1842">Total gird frequency</text>
<text class="m" font-size="68" font-weight="300" text-anchor="middle" transform="rotate(-90) scale(0.93,1)" x="-1414.8 -1372.8 -1330.8 -1288.7 -1246.7 -1204.6 -1162.6 -1120.5 -1078.5 -1036.5 -994.4 -952.4 -910.3 -868.3 -826.2 -784.2 -742.2 -700.1 -658.1 -616 -574 -531.9 -489.9 -447.8 -405.8 -363.8 -321.7" y="76.3">Gird frequency of snowdrift</text>
</svg></body></html>
